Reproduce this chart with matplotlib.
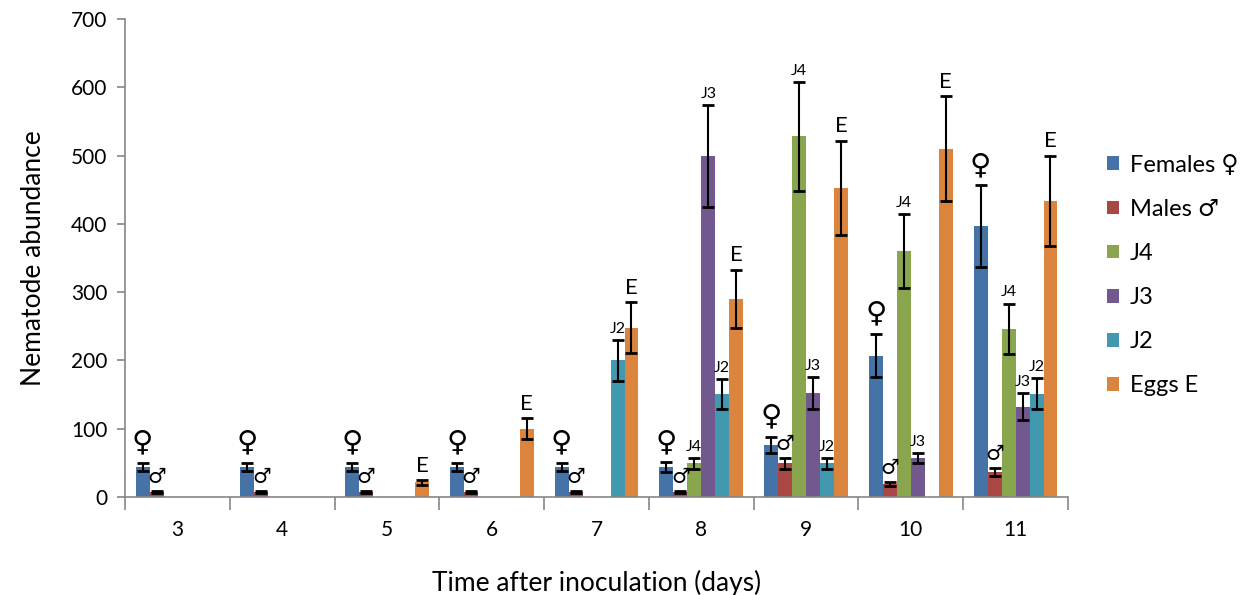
import numpy as np
import matplotlib.pyplot as plt

plt.rcParams['font.family'] = ['Lato', 'DejaVu Sans']

days = ['3', '4', '5', '6', '7', '8', '9', '10', '11']

series_names = ['Females ♀', 'Males ♂', 'J4', 'J3', 'J2', 'Eggs E']
series_marks = ['♀', '♂', 'J4', 'J3', 'J2', 'E']
colors = ['#4572A7', '#AA4643', '#89A54E', '#71588F', '#4198AF', '#DB843D']

females = [44, 44, 44, 44, 44, 44, 76, 207, 397]
females_err = [6, 6, 6, 6, 6, 7, 12, 32, 60]
males = [7, 7, 7, 7, 7, 7, 49, 19, 36]
males_err = [2, 2, 2, 2, 2, 2, 8, 3, 6]
j4 = [0, 0, 0, 0, 0, 49, 528, 360, 246]
j4_err = [0, 0, 0, 0, 0, 8, 80, 54, 37]
j3 = [0, 0, 0, 0, 0, 499, 152, 57, 132]
j3_err = [0, 0, 0, 0, 0, 75, 23, 7, 20]
j2 = [0, 0, 0, 0, 200, 150, 49, 0, 151]
j2_err = [0, 0, 0, 0, 30, 22, 8, 0, 23]
eggs = [0, 0, 21, 100, 248, 290, 453, 510, 434]
eggs_err = [0, 0, 3, 15, 37, 43, 69, 77, 66]

values = [females, males, j4, j3, j2, eggs]
errors = [females_err, males_err, j4_err, j3_err, j2_err, eggs_err]
mark_sizes = [21, 15, 11.5, 11.5, 11.5, 16]
mark_gap = [5, 3, 3, 3, 3, 3]

fig = plt.figure(figsize=(12.52, 5.95), dpi=100)
ax = fig.add_axes([0.1, 0.165, 0.753, 0.803])

x = np.arange(len(days))
w = 0.8 / 6

for j in range(6):
    vals = np.array(values[j], dtype=float)
    errs = np.array(errors[j], dtype=float)
    pos = x + (j - 2.5) * w
    ax.bar(pos, vals, w, color=colors[j], label=series_names[j], zorder=2)
    m = vals > 0
    ax.errorbar(pos[m], vals[m], yerr=errs[m], fmt='none', ecolor='black',
                elinewidth=1.5, capsize=4.3, capthick=2, zorder=3)
    for p, v, e in zip(pos[m], vals[m], errs[m]):
        ax.annotate(series_marks[j], (p, v + e), xytext=(0, mark_gap[j]),
                    textcoords='offset points', ha='center', va='bottom',
                    fontsize=mark_sizes[j])

ax.set_xlim(-0.5, len(days) - 0.5)
ax.set_ylim(0, 700)
ax.set_yticks(np.arange(0, 701, 100))
ax.set_xticks(x)
ax.set_xticklabels(days)
ax.set_xticks(np.arange(-0.5, len(days), 1), minor=True)
ax.tick_params(axis='x', which='major', length=0, labelsize=15, pad=17)
ax.tick_params(axis='x', which='minor', length=9, color='#868686', width=1.2)
ax.tick_params(axis='y', length=6, color='#868686', width=1.2, labelsize=15, pad=7)

for s in ['top', 'right']:
    ax.spines[s].set_visible(False)
for s in ['left', 'bottom']:
    ax.spines[s].set_color('#868686')
    ax.spines[s].set_linewidth(1.2)

ax.set_xlabel('Time after inoculation (days)', fontsize=19, labelpad=21)
ax.set_ylabel('Nematode abundance', fontsize=19, labelpad=18)

fig.legend(loc='center left', bbox_to_anchor=(0.884, 0.537), frameon=False,
           fontsize=17, labelspacing=0.98, handlelength=0.52, handleheight=0.52,
           handletextpad=0.45, borderpad=0, borderaxespad=0)

fig.savefig('out.png', dpi=100)
